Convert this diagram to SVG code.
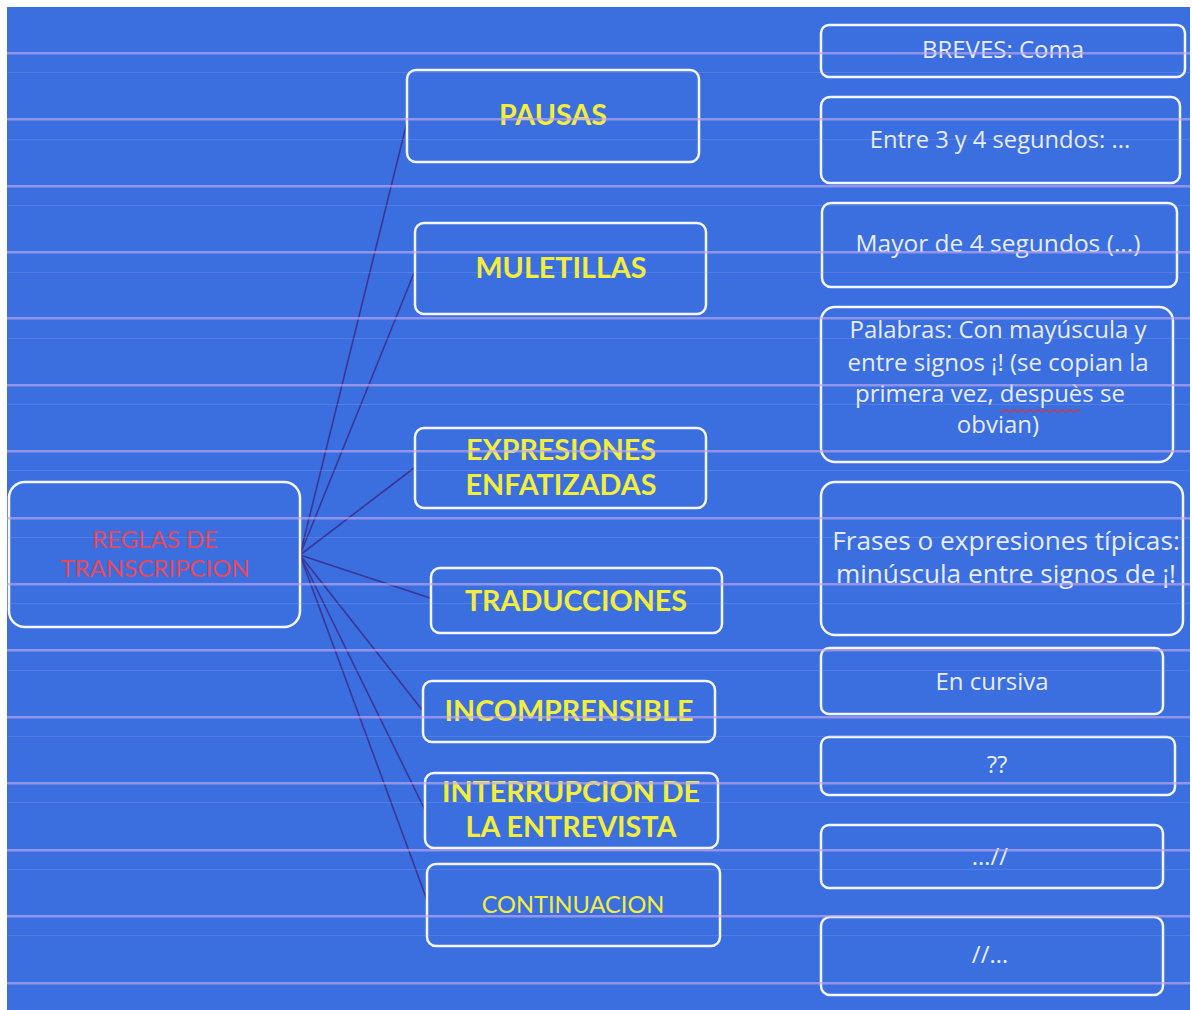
<svg xmlns="http://www.w3.org/2000/svg" width="1192" height="1010" viewBox="0 0 1192 1010">
<style>
.box{fill:none;stroke:#f4f6fb;stroke-width:2.5}
.y{font-family:Lato,"Open Sans",sans-serif;font-weight:bold;font-size:28.7px;fill:#f3ee3c;text-anchor:middle}
.w{font-family:"Open Sans",Lato,sans-serif;font-size:24px;fill:#e8ecfa;text-anchor:middle}
.r{font-family:Lato,"Open Sans",sans-serif;font-size:24px;fill:#e6485c;text-anchor:middle}
.c{stroke:#3a3596;stroke-width:1.6;fill:none}
.s{fill:#c0a8ee;opacity:0.65}
.f{fill:#9fb6f0;opacity:0.22}
</style>
<rect x="0" y="0" width="1192" height="1010" fill="#ffffff"/>
<rect x="7" y="7" width="1183" height="1003" fill="#3b6fdf"/>
<g id="connectors">
<line class="c" x1="300" y1="555" x2="407" y2="122"/>
<line class="c" x1="300" y1="555" x2="414" y2="273"/>
<line class="c" x1="300" y1="555" x2="414" y2="468"/>
<line class="c" x1="300" y1="555" x2="430" y2="598"/>
<line class="c" x1="300" y1="555" x2="423" y2="711"/>
<line class="c" x1="300" y1="555" x2="425" y2="810"/>
<line class="c" x1="300" y1="555" x2="427" y2="900"/>
</g>
<g id="root">
<rect class="box" x="9" y="482" width="291" height="145" rx="16"/>
<text class="r" x="155" y="548">REGLAS DE</text>
<text class="r" x="155" y="577">TRANSCRIPCION</text>
</g>
<g id="pausas">
<rect class="box" x="407" y="70" width="292" height="92" rx="9"/>
<text class="y" x="553" y="125">PAUSAS</text>
</g>
<g id="muletillas">
<rect class="box" x="415" y="223" width="291" height="91" rx="9"/>
<text class="y" x="561" y="278">MULETILLAS</text>
</g>
<g id="expresiones">
<rect class="box" x="415" y="428" width="291" height="80" rx="9"/>
<text class="y" x="561" y="460">EXPRESIONES</text>
<text class="y" x="561" y="495">ENFATIZADAS</text>
</g>
<g id="traducciones">
<rect class="box" x="431" y="568" width="291" height="65" rx="9"/>
<text class="y" x="576" y="611">TRADUCCIONES</text>
</g>
<g id="incomprensible">
<rect class="box" x="423" y="681" width="292" height="61" rx="9"/>
<text class="y" x="569" y="721">INCOMPRENSIBLE</text>
</g>
<g id="interrupcion">
<rect class="box" x="425" y="773" width="293" height="75" rx="9"/>
<text class="y" x="571" y="802">INTERRUPCION DE</text>
<text class="y" x="571" y="837">LA ENTREVISTA</text>
</g>
<g id="continuacion">
<rect class="box" x="427" y="864" width="293" height="82" rx="9"/>
<text class="w" x="573" y="913" style="fill:#f3ee3c;font-family:Lato,sans-serif;font-size:23.6px">CONTINUACION</text>
</g>
<g id="breves">
<rect class="box" x="821" y="25" width="364" height="52" rx="8"/>
<text class="w" x="1003" y="58">BREVES: Coma</text>
</g>
<g id="entre">
<rect class="box" x="821" y="97" width="359" height="86" rx="9"/>
<text class="w" x="1000" y="148" style="font-size:23.7px">Entre 3 y 4 segundos: ...</text>
</g>
<g id="mayor">
<rect class="box" x="822" y="203" width="355" height="84" rx="9"/>
<text class="w" x="998" y="252" style="font-size:24.5px">Mayor de 4 segundos (...)</text>
</g>
<g id="palabras">
<rect class="box" x="821" y="307" width="352" height="155" rx="14"/>
<text class="w" x="998" y="338">Palabras: Con mayúscula y</text>
<text class="w" x="998" y="371">entre signos ¡! (se copian la</text>
<text class="w" x="990" y="402">primera vez, despuès se</text>
<text class="w" x="998" y="433">obvian)</text>
<path d="M1000 411 q2 2 4 0 t4 0 t4 0 t4 0 t4 0 t4 0 t4 0 t4 0 t4 0 t4 0 t4 0 t4 0 t4 0 t4 0 t4 0 t4 0 t4 0 t4 0 t4 0 t4 0" stroke="#c83a4a" stroke-width="1.2" fill="none"/>
</g>
<g id="frases">
<rect class="box" x="821" y="482" width="362" height="153" rx="14"/>
<text class="w" x="1006" y="550" style="font-size:26.2px">Frases o expresiones típicas:</text>
<text class="w" x="1006" y="583" style="font-size:26.2px">minúscula entre signos de ¡!</text>
</g>
<g id="cursiva">
<rect class="box" x="821" y="648" width="342" height="66" rx="8"/>
<text class="w" x="992" y="690">En cursiva</text>
</g>
<g id="interrog">
<rect class="box" x="821" y="737" width="354" height="58" rx="8"/>
<text class="w" x="997" y="773">??</text>
</g>
<g id="cortes1">
<rect class="box" x="821" y="825" width="342" height="63" rx="8"/>
<text class="w" x="990" y="865">…//</text>
</g>
<g id="cortes2">
<rect class="box" x="821" y="917" width="342" height="78" rx="9"/>
<text class="w" x="990" y="963">//…</text>
</g>
<g id="stripes">
<rect class="s" x="7" y="52" width="1183" height="2.5"/>
<rect class="s" x="7" y="118" width="1183" height="2.5"/>
<rect class="s" x="7" y="185" width="1183" height="2.5"/>
<rect class="s" x="7" y="251" width="1183" height="2.5"/>
<rect class="s" x="7" y="317" width="1183" height="2.5"/>
<rect class="s" x="7" y="384" width="1183" height="2.5"/>
<rect class="s" x="7" y="450" width="1183" height="2.5"/>
<rect class="s" x="7" y="517" width="1183" height="2.5"/>
<rect class="s" x="7" y="583" width="1183" height="2.5"/>
<rect class="s" x="7" y="649" width="1183" height="2.5"/>
<rect class="s" x="7" y="716" width="1183" height="2.5"/>
<rect class="s" x="7" y="782" width="1183" height="2.5"/>
<rect class="s" x="7" y="849" width="1183" height="2.5"/>
<rect class="s" x="7" y="915" width="1183" height="2.5"/>
<rect class="s" x="7" y="982" width="1183" height="2.5"/>
<rect class="f" x="7" y="72" width="1183" height="1"/>
<rect class="f" x="7" y="139" width="1183" height="1"/>
<rect class="f" x="7" y="205" width="1183" height="1"/>
<rect class="f" x="7" y="272" width="1183" height="1"/>
<rect class="f" x="7" y="338" width="1183" height="1"/>
<rect class="f" x="7" y="404" width="1183" height="1"/>
<rect class="f" x="7" y="470" width="1183" height="1"/>
<rect class="f" x="7" y="537" width="1183" height="1"/>
<rect class="f" x="7" y="603" width="1183" height="1"/>
<rect class="f" x="7" y="670" width="1183" height="1"/>
<rect class="f" x="7" y="736" width="1183" height="1"/>
<rect class="f" x="7" y="802" width="1183" height="1"/>
<rect class="f" x="7" y="869" width="1183" height="1"/>
<rect class="f" x="7" y="935" width="1183" height="1"/>
</g>
</svg>
